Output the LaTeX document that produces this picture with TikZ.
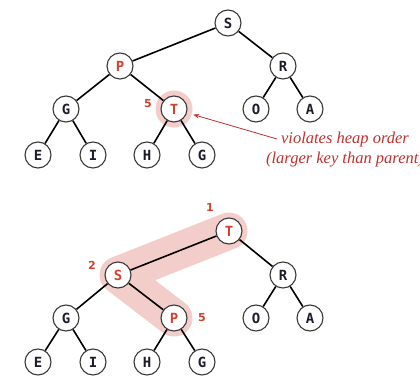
\documentclass[tikz,border=0pt]{standalone}
\usepackage{fontspec}
\newfontfamily\keyfont{DejaVu Sans Mono}
\newfontfamily\numfont{DejaVu Sans}
\newfontfamily\notefont{Liberation Serif}
\usetikzlibrary{arrows.meta,backgrounds}
\definecolor{keyred}{HTML}{D2402E}
\definecolor{notered}{HTML}{C0302E}
\definecolor{hl}{HTML}{F2CDC9}
\definecolor{ring}{HTML}{3A3A3A}
\definecolor{keyink}{HTML}{1C1C2C}
\begin{document}
\begin{tikzpicture}[x=1pt,y=-1pt,
  key/.style={circle, draw=ring, line width=1.1pt, fill=white, minimum size=26pt,
    inner sep=0pt, text=keyink, font=\keyfont\bfseries\fontsize{14}{14}\selectfont},
  hot/.style={key, text=keyred},
  link/.style={line width=1.6pt, black},
  idx/.style={text=keyred, inner sep=0pt, font=\numfont\bfseries\fontsize{11}{11}\selectfont},
  band/.style={draw=hl, line width=37pt, line cap=round, line join=round},
]
\useasboundingbox (0,0) rectangle (420,377);

% heap with T just inserted at position 5
\node[key] (tS) at (228,23) {S};
\node[hot] (tP) at (120,66) {P};
\node[key] (tR) at (283,66) {R};
\node[key] (tG) at (66,109) {G};
\node[hot] (tT) at (174,109) {T};
\node[key] (tO) at (256,109) {O};
\node[key] (tA) at (310,109) {A};
\node[key] (tE) at (38,155) {E};
\node[key] (tI) at (93,155) {I};
\node[key] (tH) at (147,155) {H};
\node[key] (tG2) at (202,155) {G};
\draw[link] (tS) -- (tP);
\draw[link] (tS) -- (tR);
\draw[link] (tP) -- (tG);
\draw[link] (tP) -- (tT);
\draw[link] (tR) -- (tO);
\draw[link] (tR) -- (tA);
\draw[link] (tG) -- (tE);
\draw[link] (tG) -- (tI);
\draw[link] (tT) -- (tH);
\draw[link] (tT) -- (tG2);
\node[idx] (tn5) at (148,104) {5};
\begin{scope}[on background layer]
  \fill[hl] (tT.center) circle (18.5);
\end{scope}

% note on the violation
\node[align=center, text=notered, inner sep=0pt,
  font=\notefont\itshape\fontsize{16.5}{20}\selectfont] (note) at (345,150)
  {violates heap order\\(larger key than parent)};
\coordinate (tail) at (277,139);
\draw[notered, line width=0.8pt, shorten >=6.5pt,
  -{Stealth[length=6pt,width=4.5pt]}] (tail) -- (tT);

% heap after swimming T up
\node[hot] (bT) at (229,231) {T};
\node[hot] (bS) at (118,275) {S};
\node[key] (bR) at (283,275) {R};
\node[key] (bG) at (66,318) {G};
\node[hot] (bP) at (174,318) {P};
\node[key] (bO) at (256,318) {O};
\node[key] (bA) at (310,318) {A};
\node[key] (bE) at (38,362) {E};
\node[key] (bI) at (93,362) {I};
\node[key] (bH) at (147,362) {H};
\node[key] (bG2) at (202,362) {G};
\draw[link] (bT) -- (bS);
\draw[link] (bT) -- (bR);
\draw[link] (bS) -- (bG);
\draw[link] (bS) -- (bP);
\draw[link] (bR) -- (bO);
\draw[link] (bR) -- (bA);
\draw[link] (bG) -- (bE);
\draw[link] (bG) -- (bI);
\draw[link] (bP) -- (bH);
\draw[link] (bP) -- (bG2);
\node[idx] (bn1) at (210,207) {1};
\node[idx] (bn2) at (92,265) {2};
\node[idx] (bn5) at (202,318) {5};
\begin{scope}[on background layer]
  \draw[band] (bT.center) -- (bS.center) -- (bP.center);
\end{scope}
\end{tikzpicture}
\end{document}
